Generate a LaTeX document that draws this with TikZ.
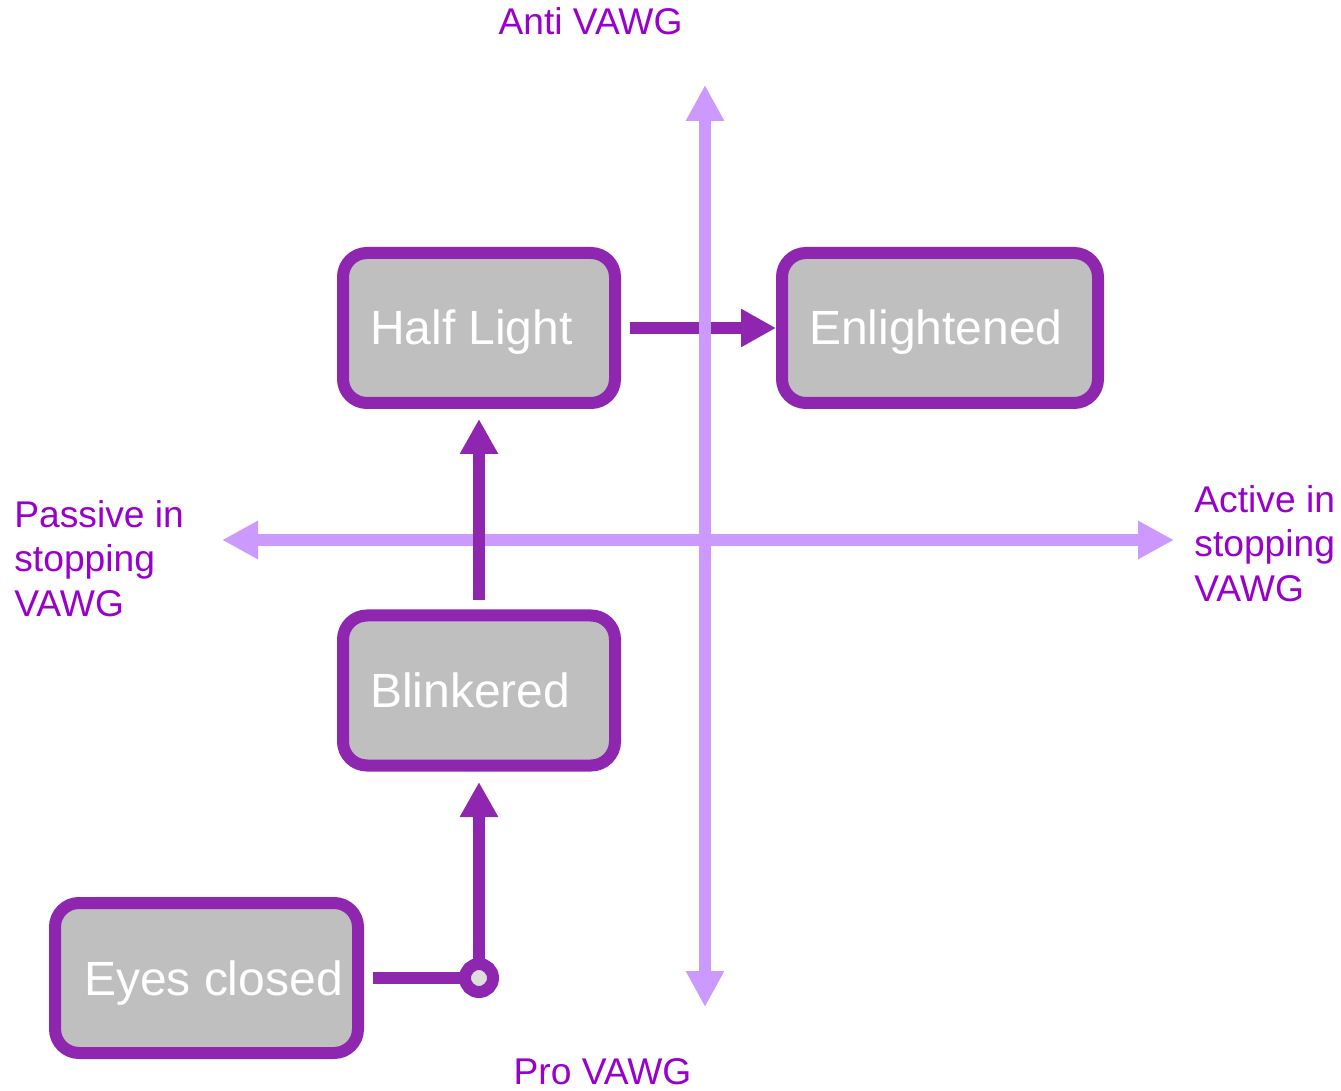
\documentclass[tikz,border=0pt]{standalone}
\usepackage{fontspec}
\setmainfont{Liberation Sans}
\usetikzlibrary{arrows.meta,calc}
\definecolor{boxline}{RGB}{142,38,176}
\definecolor{axisline}{RGB}{204,153,255}
\definecolor{labeltext}{RGB}{153,0,204}
\definecolor{boxfill}{RGB}{191,191,191}
\definecolor{jointfill}{RGB}{221,221,221}
% box text: fixed-width box, left padded
\newcommand\padtext[3][13.5pt]{\makebox[#2][l]{\hspace{#1}#3}}

\begin{document}
\begin{tikzpicture}[x=0.5pt,y=-0.5pt,
  state/.style={draw=boxline, line width=6pt, fill=boxfill, rounded corners=12pt,
    minimum height=75pt, inner xsep=0pt, inner ysep=0pt,
    text height=17pt, text depth=0pt, text=white,
    font=\fontsize{24pt}{28pt}\selectfont},
  flow/.style={draw=boxline, line width=6pt, -{Triangle[length=17.5pt,width=18pt]}},
  plainflow/.style={draw=boxline, line width=6pt},
  axis/.style={draw=axisline, line width=6pt,
    {Triangle[length=18pt,width=18pt]}-{Triangle[length=18pt,width=18pt]}},
  axislabel/.style={text=labeltext, inner sep=0pt,
    font=\fontsize{18.6pt}{22.25pt}\selectfont},
  joint/.style={circle, draw=boxline, line width=6pt, fill=jointfill,
    minimum size=14pt, inner sep=0pt}]
\useasboundingbox (0,0) rectangle (1341,1091);

% stages
\node[state, minimum width=136pt] (hl) at (479,328) {\padtext{136pt}{Half Light}};
\node[state, minimum width=158pt] (en) at (940,328) {\padtext{158pt}{Enlightened}};
\node[state, minimum width=136pt] (bl) at (479,690.5) {\padtext{136pt}{Blinkered}};
\node[state, minimum width=151.5pt] (ec) at (206.5,978) {\padtext[14.5pt]{151.5pt}{Eyes closed}};

% Half Light to Enlightened (passes under the vertical axis)
\draw[flow] ($(hl.east)+(9,0)$) -- (en.west);

% axes
\coordinate (ytop) at (705,85);
\coordinate (ybot) at (705,1007);
\coordinate (xleft) at (222,540);
\coordinate (xright) at (1174,540);
\draw[axis] (xleft) -- (xright);
\draw[axis] (ybot) -- (ytop);

% Blinkered to Half Light
\draw[flow] ($(bl.north)+(0,-9.5)$) -- ($(hl.south)+(0,10)$);

% Eyes closed to Blinkered, through the joint
\coordinate (jc) at (479,978);
\draw[plainflow] ($(ec.east)+(9,0)$) -- (jc);
\draw[flow] (jc) -- ($(bl.south)+(0,10.5)$);
\node[joint] (jn) at (jc) {};

% axis labels
\node[axislabel, anchor=base] (anti) at (590.5,35) {Anti VAWG};
\node[axislabel, anchor=base] (pro) at (602.5,1084) {Pro VAWG};
\node[axislabel, anchor=north west, align=left] (passive) at (14,500) {Passive in\\stopping\\VAWG};
\node[axislabel, anchor=north west, align=left] (active) at (1194,485) {Active in\\stopping\\VAWG};
\end{tikzpicture}
\end{document}
